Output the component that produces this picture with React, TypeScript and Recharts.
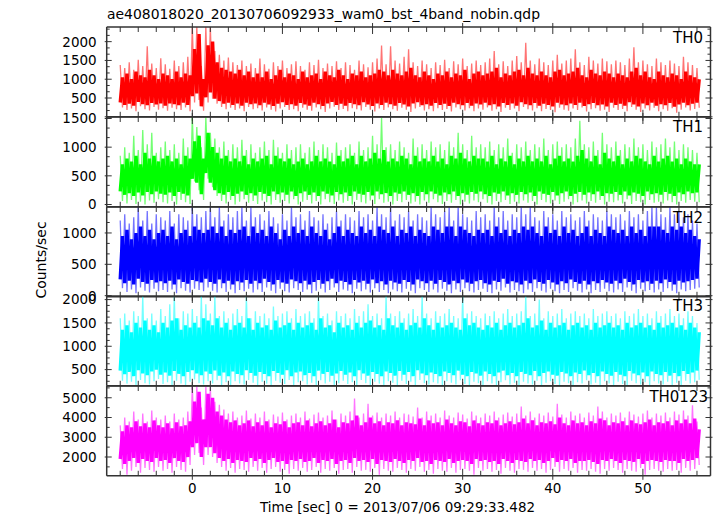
import React from "react";
import { ComposedChart, Line, XAxis, YAxis } from "recharts";

// light curve bins: 0.5 s wide, first bin at t = -8 s (129 bins, -8 .. 56 s)
const BIN_START = -8;
const BIN_STEP = 0.5;

// per-bin extremes (hi / lo) and the dense inner band (inHi / inLo)
const th0Hi = [
  1380, 1300, 1450, 1250, 1520, 1350, 1880, 1420, 1300, 1560,
  1400, 1280, 1500, 1350, 1450, 1600, 2390, 2390, 1350, 2390,
  2390, 1750, 1650, 1500, 1580, 1450, 1380, 1500, 1350, 1420,
  1300, 1550, 1400, 1280, 1450, 1350, 1500, 1300, 1400, 1480,
  1350, 1250, 1450, 1380, 1520, 1300, 1420, 1350, 1480, 1300,
  1450, 1380, 1250, 1500, 1400, 1320, 1450, 1550, 1900, 1400,
  1880, 1500, 1420, 1600, 1800, 1450, 1350, 1500, 1400, 1300,
  1450, 1380, 1520, 1300, 1480, 1400, 1550, 1350, 1420, 1500,
  1380, 1450, 1550, 1750, 1400, 1480, 1350, 1500, 1620, 1450,
  1970, 1500, 1400, 1550, 1450, 1380, 1500, 1650, 1420, 1500,
  1550, 1800, 1450, 1380, 1600, 1500, 1420, 1550, 1480, 1400,
  1500, 1450, 1380, 1550, 1850, 1450, 1500, 1400, 1350, 1550,
  1450, 1380, 1500, 1420, 1350, 1600, 1450, 1380, 1300,
];
const th0Lo = [
  250, 180, 220, 150, 280, 200, 170, 260, 190, 230,
  160, 240, 200, 180, 250, 150, 380, 450, 160, 380,
  480, 350, 260, 200, 240, 180, 220, 150, 260, 200,
  230, 170, 250, 190, 140, 220, 260, 180, 200, 150,
  240, 190, 160, 250, 200, 130, 220, 270, 180, 210,
  150, 230, 200, 170, 260, 190, 140, 220, 180, 250,
  200, 160, 240, 190, 130, 220, 260, 170, 200, 150,
  230, 180, 210, 140, 250, 200, 170, 230, 150, 220,
  190, 250, 160, 200, 130, 240, 180, 220, 150, 260,
  200, 170, 230, 150, 210, 180, 120, 240, 190, 160,
  220, 180, 250, 140, 200, 230, 160, 190, 130, 240,
  180, 210, 150, 260, 190, 130, 220, 170, 240, 150,
  200, 160, 230, 110, 190, 250, 170, 210, 240,
];
const th0InHi = [
  1050, 1150, 1000, 1200, 1100, 1050, 1250, 1100, 1000, 1150,
  1100, 1000, 1200, 1050, 1150, 1100, 1800, 2200, 1000, 1900,
  2000, 1450, 1300, 1250, 1200, 1150, 1250, 1100, 1200, 1050,
  1150, 1050, 1200, 1000, 1100, 1250, 1050, 1150, 1100, 1000,
  1200, 1050, 1100, 1150, 1000, 1200, 1100, 1050, 1250, 1100,
  1000, 1150, 1100, 1200, 1050, 1100, 1150, 1250, 1200, 1100,
  1250, 1150, 1100, 1200, 1300, 1100, 1050, 1200, 1100, 1000,
  1150, 1100, 1200, 1050, 1150, 1100, 1250, 1000, 1150, 1200,
  1100, 1150, 1200, 1300, 1050, 1150, 1100, 1200, 1250, 1100,
  1300, 1150, 1100, 1200, 1100, 1050, 1200, 1250, 1100, 1150,
  1200, 1300, 1100, 1050, 1250, 1150, 1100, 1200, 1150, 1050,
  1150, 1100, 1050, 1200, 1300, 1100, 1200, 1050, 1000, 1200,
  1100, 1050, 1150, 1100, 1000, 1200, 1100, 1050, 1000,
];
const th0InLo = [
  380, 320, 350, 300, 400, 340, 310, 370, 330, 360,
  300, 360, 340, 310, 380, 320, 550, 620, 280, 520,
  650, 480, 420, 350, 380, 320, 360, 300, 380, 340,
  360, 310, 380, 330, 290, 350, 390, 320, 340, 300,
  370, 330, 300, 380, 340, 290, 360, 400, 320, 350,
  300, 370, 340, 310, 390, 330, 290, 360, 320, 380,
  340, 300, 370, 330, 280, 360, 390, 310, 340, 300,
  370, 320, 350, 290, 380, 340, 310, 370, 300, 360,
  330, 380, 310, 340, 280, 370, 320, 360, 300, 390,
  340, 310, 370, 300, 350, 320, 280, 380, 330, 310,
  360, 320, 380, 290, 340, 370, 310, 330, 280, 380,
  320, 350, 300, 390, 330, 280, 360, 310, 380, 300,
  340, 310, 370, 270, 330, 380, 310, 350, 380,
];

const th1Hi = [
  850, 1000, 900, 1200, 950, 1300, 1050, 1250, 900, 1000,
  1100, 950, 1050, 900, 1150, 1000, 1526, 1350, 1000, 1526,
  1250, 1150, 1000, 1100, 950, 1050, 1000, 1130, 950, 1050,
  900, 1000, 1100, 950, 1130, 1000, 900, 1050, 950, 1000,
  1050, 900, 1000, 1100, 950, 1050, 1000, 900, 1080, 950,
  1000, 1050, 900, 1100, 950, 1000, 1200, 1050, 1510, 1000,
  1050, 950, 1100, 1000, 900, 1150, 1000, 1050, 950, 1100,
  1000, 1050, 950, 1100, 1000, 1250, 1050, 950, 1200, 1000,
  1050, 1000, 1100, 950, 1050, 1000, 1150, 900, 1050, 1000,
  1100, 950, 1050, 1000, 1150, 950, 1050, 1100, 1000, 1050,
  1000, 1150, 1460, 1050, 1000, 1100, 950, 1250, 1050, 1000,
  1100, 950, 1050, 1000, 1150, 1000, 1050, 950, 1100, 1000,
  1050, 1150, 1000, 1100, 950, 1050, 1000, 950, 900,
];
const th1Lo = [
  60, 20, 80, 10, 50, 0, 70, 30, 90, 40,
  20, 60, 0, 80, 40, 10, 400, 250, 80, 450,
  300, 150, 60, 20, 80, 0, 50, 90, 30, 60,
  10, 70, 40, 0, 80, 30, 60, 20, 90, 0,
  50, 80, 20, 60, 0, 90, 40, 10, 70, 30,
  60, 0, 80, 40, 20, 70, 10, 90, 30, 50,
  0, 60, 40, 80, 20, 50, 0, 70, 30, 90,
  40, 10, 60, 30, 80, 0, 50, 20, 70, 40,
  90, 30, 0, 60, 40, 80, 10, 50, 20, 70,
  30, 60, 0, 80, 40, 20, 70, 10, 50, 90,
  0, 40, 70, 20, 60, 30, 80, 0, 50, 40,
  70, 20, 90, 10, 60, 40, 0, 80, 30, 50,
  20, 70, 40, 0, 60, 30, 80, 50, 40,
];
const th1InHi = [
  700, 800, 750, 850, 700, 900, 800, 850, 750, 800,
  850, 750, 800, 700, 850, 800, 1100, 1200, 800, 1250,
  1000, 900, 800, 850, 750, 800, 750, 850, 700, 800,
  750, 800, 850, 700, 850, 800, 750, 800, 700, 750,
  800, 700, 750, 850, 750, 800, 750, 700, 850, 750,
  800, 850, 700, 850, 750, 800, 900, 800, 950, 750,
  800, 750, 850, 800, 700, 850, 750, 800, 750, 850,
  750, 800, 700, 850, 800, 900, 800, 750, 850, 800,
  800, 750, 850, 700, 800, 750, 850, 700, 800, 750,
  850, 750, 800, 750, 850, 700, 800, 850, 750, 800,
  750, 850, 950, 800, 750, 850, 700, 900, 800, 750,
  850, 700, 800, 750, 850, 800, 750, 700, 850, 750,
  800, 850, 750, 800, 700, 800, 750, 700, 700,
];
const th1InLo = [
  230, 170, 200, 150, 210, 160, 220, 180, 230, 190,
  170, 210, 150, 220, 190, 160, 450, 380, 180, 550,
  380, 250, 200, 170, 220, 150, 190, 230, 170, 200,
  160, 220, 190, 150, 230, 180, 210, 170, 230, 150,
  200, 230, 170, 210, 150, 230, 190, 160, 220, 180,
  210, 150, 230, 190, 170, 220, 160, 230, 180, 200,
  150, 210, 190, 230, 170, 200, 150, 220, 180, 230,
  190, 160, 210, 180, 230, 150, 200, 170, 220, 190,
  230, 180, 150, 210, 190, 230, 160, 200, 170, 220,
  180, 210, 150, 230, 190, 170, 220, 160, 200, 230,
  150, 190, 220, 170, 210, 180, 230, 150, 200, 190,
  220, 170, 230, 160, 210, 190, 150, 230, 180, 200,
  170, 220, 190, 150, 210, 180, 230, 200, 210,
];

const th2Hi = [
  1200, 1300, 1150, 1250, 1414, 1200, 1350, 1150, 1300, 1250,
  1200, 1350, 1150, 1300, 1250, 1200, 1414, 1300, 1250, 1350,
  1414, 1250, 1414, 1200, 1300, 1250, 1350, 1414, 1200, 1414,
  1250, 1300, 1200, 1350, 1250, 1150, 1300, 1200, 1414, 1250,
  1300, 1200, 1350, 1250, 1200, 1300, 1150, 1250, 1350, 1200,
  1300, 1250, 1200, 1350, 1250, 1300, 1200, 1414, 1300, 1250,
  1414, 1200, 1300, 1250, 1350, 1200, 1300, 1250, 1200, 1414,
  1300, 1250, 1350, 1414, 1200, 1414, 1300, 1250, 1200, 1350,
  1250, 1300, 1200, 1414, 1250, 1350, 1200, 1300, 1250, 1414,
  1300, 1414, 1250, 1200, 1350, 1250, 1300, 1200, 1350, 1250,
  1300, 1200, 1250, 1350, 1200, 1300, 1250, 1200, 1350, 1300,
  1250, 1300, 1200, 1350, 1250, 1300, 1200, 1350, 1414, 1414,
  1300, 1250, 1414, 1300, 1350, 1250, 1300, 1200, 1150,
];
const th2Lo = [
  120, 60, 100, 40, 130, 80, 50, 110, 70, 90,
  60, 100, 40, 120, 80, 50, 110, 90, 70, 130,
  80, 50, 120, 60, 100, 40, 90, 70, 110, 50,
  100, 60, 130, 80, 40, 110, 70, 50, 120, 90,
  60, 100, 40, 80, 110, 50, 90, 130, 60, 100,
  80, 40, 110, 70, 100, 50, 120, 60, 90, 40,
  100, 70, 50, 110, 80, 40, 120, 90, 60, 100,
  50, 110, 80, 40, 100, 60, 120, 70, 50, 90,
  110, 60, 40, 100, 80, 130, 50, 90, 70, 40,
  100, 60, 120, 80, 50, 110, 70, 40, 90, 60,
  120, 80, 50, 100, 40, 90, 60, 110, 70, 50,
  100, 60, 130, 80, 40, 110, 70, 90, 50, 100,
  60, 120, 80, 40, 100, 70, 90, 110, 130,
];
const th2InHi = [
  950, 1050, 900, 1000, 1100, 950, 1050, 900, 1000, 1050,
  950, 1100, 900, 1000, 1050, 950, 1100, 1050, 1000, 1050,
  1100, 1000, 1100, 950, 1050, 1000, 1050, 1100, 950, 1100,
  1000, 1050, 950, 1100, 1000, 900, 1050, 950, 1100, 1000,
  1050, 950, 1100, 1000, 950, 1050, 900, 1000, 1100, 950,
  1050, 1000, 950, 1100, 1000, 1050, 950, 1100, 1050, 1000,
  1100, 950, 1050, 1000, 1100, 950, 1050, 1000, 950, 1100,
  1050, 1000, 1100, 1100, 950, 1100, 1050, 1000, 950, 1050,
  1000, 1050, 950, 1100, 1000, 1050, 950, 1050, 1000, 1100,
  1050, 1100, 1000, 950, 1100, 1000, 1050, 950, 1100, 1000,
  1050, 950, 1000, 1100, 950, 1050, 1000, 950, 1100, 1050,
  1000, 1050, 950, 1100, 1000, 1050, 950, 1100, 1100, 1100,
  1050, 1000, 1100, 1050, 1100, 1000, 1050, 950, 900,
];
const th2InLo = [
  260, 200, 240, 180, 270, 220, 190, 250, 210, 230,
  200, 240, 180, 260, 220, 190, 250, 230, 210, 270,
  220, 190, 260, 200, 240, 180, 230, 210, 250, 190,
  240, 200, 270, 220, 180, 250, 210, 190, 260, 230,
  200, 240, 180, 220, 250, 190, 230, 270, 200, 240,
  220, 180, 250, 210, 240, 190, 260, 200, 230, 180,
  240, 210, 190, 250, 220, 180, 260, 230, 200, 240,
  190, 250, 220, 180, 240, 200, 260, 210, 190, 230,
  250, 200, 180, 240, 220, 270, 190, 230, 210, 180,
  240, 200, 260, 220, 190, 250, 210, 180, 230, 200,
  260, 220, 190, 240, 180, 230, 200, 250, 210, 190,
  240, 200, 270, 220, 180, 250, 210, 230, 190, 240,
  200, 260, 220, 180, 240, 210, 230, 250, 270,
];

const th3Hi = [
  1600, 1700, 1550, 1750, 1650, 2077, 1600, 1700, 1550, 1800,
  1650, 1900, 2077, 1600, 1750, 1700, 1800, 1650, 2077, 1900,
  1700, 2077, 1650, 1750, 1600, 1700, 1800, 1650, 2077, 1600,
  1750, 1650, 1700, 1600, 1850, 1650, 1700, 1750, 1600, 1800,
  1650, 1700, 1750, 1600, 2077, 1650, 1700, 1550, 1750, 1650,
  1700, 1600, 1800, 1650, 1750, 1900, 1650, 1700, 1600, 2077,
  1700, 1650, 1750, 1600, 1700, 1800, 1650, 2077, 1700, 1600,
  1750, 1650, 1700, 1800, 1650, 1600, 2077, 1700, 1750, 1650,
  1600, 1700, 1650, 1750, 1600, 1700, 1800, 1650, 1700, 1750,
  2077, 1650, 1700, 2000, 1600, 1750, 1650, 1700, 1800, 1600,
  1700, 1750, 1650, 1700, 1600, 1800, 1650, 1700, 1750, 1650,
  1700, 1600, 1750, 1650, 1700, 1800, 1650, 1700, 1600, 1750,
  1650, 1700, 1800, 1650, 1700, 1600, 1750, 1650, 1500,
];
const th3Lo = [
  260, 200, 240, 160, 280, 210, 180, 250, 300, 190,
  230, 170, 260, 200, 160, 240, 290, 210, 180, 250,
  200, 270, 170, 230, 160, 250, 200, 180, 280, 220,
  170, 240, 200, 160, 260, 220, 190, 280, 160, 230,
  250, 180, 220, 160, 270, 200, 240, 170, 210, 260,
  190, 230, 160, 280, 210, 170, 240, 200, 160, 250,
  220, 170, 260, 190, 240, 160, 280, 210, 180, 230,
  200, 160, 250, 220, 180, 270, 190, 160, 240, 210,
  170, 250, 200, 160, 230, 270, 180, 220, 160, 240,
  200, 180, 260, 160, 220, 250, 190, 170, 240, 210,
  160, 230, 200, 270, 180, 220, 160, 250, 200, 170,
  240, 190, 160, 260, 210, 180, 230, 160, 250, 200,
  180, 240, 170, 220, 160, 260, 200, 230, 280,
];
const th3InHi = [
  1350, 1450, 1300, 1500, 1400, 1550, 1350, 1450, 1300, 1500,
  1400, 1550, 1600, 1350, 1450, 1400, 1500, 1400, 1600, 1550,
  1450, 1600, 1400, 1500, 1350, 1450, 1500, 1400, 1600, 1350,
  1500, 1400, 1450, 1350, 1550, 1400, 1450, 1500, 1350, 1500,
  1400, 1450, 1500, 1350, 1600, 1400, 1450, 1300, 1500, 1400,
  1450, 1350, 1500, 1400, 1500, 1550, 1400, 1450, 1350, 1600,
  1450, 1400, 1500, 1350, 1450, 1500, 1400, 1600, 1450, 1350,
  1500, 1400, 1450, 1500, 1400, 1350, 1600, 1450, 1500, 1400,
  1350, 1450, 1400, 1500, 1350, 1450, 1500, 1400, 1450, 1500,
  1600, 1400, 1450, 1550, 1350, 1500, 1400, 1450, 1500, 1350,
  1450, 1500, 1400, 1450, 1350, 1500, 1400, 1450, 1500, 1400,
  1450, 1350, 1500, 1400, 1450, 1500, 1400, 1450, 1350, 1500,
  1400, 1450, 1500, 1400, 1450, 1350, 1500, 1400, 1300,
];
const th3InLo = [
  480, 400, 450, 360, 490, 420, 380, 460, 500, 390,
  440, 370, 470, 410, 360, 450, 490, 420, 380, 460,
  410, 480, 370, 440, 360, 460, 410, 380, 490, 430,
  370, 450, 410, 360, 470, 430, 390, 490, 360, 440,
  460, 380, 430, 360, 480, 410, 450, 370, 420, 470,
  390, 440, 360, 490, 420, 370, 450, 410, 360, 460,
  430, 370, 470, 390, 450, 360, 490, 420, 380, 440,
  410, 360, 460, 430, 380, 480, 390, 360, 450, 420,
  370, 460, 410, 360, 440, 480, 380, 430, 360, 450,
  410, 380, 470, 360, 430, 460, 390, 370, 450, 420,
  360, 440, 410, 480, 380, 430, 360, 460, 410, 370,
  450, 390, 360, 470, 420, 380, 440, 360, 460, 410,
  380, 450, 370, 430, 360, 470, 410, 440, 480,
];

const th0123Hi = [
  3600, 4000, 3800, 4300, 3900, 4200, 3800, 4350, 4000, 3900,
  4100, 3800, 4200, 3900, 4000, 4300, 5595, 5595, 4500, 5595,
  5595, 4800, 4650, 4400, 4200, 4300, 4000, 4100, 4350, 3950,
  4200, 4000, 4300, 3900, 4150, 4050, 4250, 3900, 4100, 4200,
  4000, 4300, 3950, 4150, 4250, 4000, 4100, 4350, 3900, 4200,
  4100, 4300, 4960, 4000, 4200, 4700, 4100, 4250, 4000, 4200,
  4100, 4300, 4000, 4200, 4150, 4050, 4500, 4000, 4300, 4100,
  4200, 4000, 4350, 4100, 4000, 4250, 4150, 3950, 4300, 4100,
  4000, 4200, 4100, 4300, 4000, 4150, 4250, 4050, 4200, 4550,
  4100, 4300, 4000, 4200, 4100, 4250, 4050, 4700, 4150, 4000,
  4300, 4100, 4200, 4000, 4250, 4100, 4550, 4300, 4000, 4200,
  4100, 4250, 4000, 4300, 4150, 4050, 4200, 4350, 4000, 4200,
  4100, 4250, 4000, 4300, 4150, 4350, 4100, 4620, 3800,
];
const th0123Lo = [
  1400, 1100, 1300, 1500, 1200, 1450, 1350, 1250, 1500, 1300,
  1400, 1200, 1500, 1350, 1250, 1600, 2100, 2200, 1600, 2100,
  2000, 1700, 1500, 1300, 1450, 1200, 1400, 1350, 1250, 1500,
  1300, 1450, 1200, 1400, 1500, 1250, 1350, 1150, 1400, 1300,
  1450, 1250, 1350, 1500, 1200, 1400, 1300, 1450, 1150, 1350,
  1400, 1200, 1500, 1300, 1350, 1250, 1450, 1100, 1400, 1300,
  1250, 1450, 1350, 1200, 1400, 1300, 1500, 1250, 1350, 1150,
  1400, 1300, 1250, 1450, 1200, 1350, 1400, 1300, 1100, 1450,
  1300, 1400, 1250, 1350, 1150, 1450, 1300, 1200, 1400, 1350,
  1250, 1450, 1300, 1400, 1200, 1350, 1500, 1250, 1400, 1300,
  1450, 1200, 1350, 1300, 1400, 1250, 1150, 1400, 1300, 1450,
  1350, 1200, 1400, 1300, 1250, 1450, 1100, 1350, 1400, 1300,
  1250, 1400, 1300, 1350, 1200, 1450, 1300, 1400, 1600,
];
const th0123InHi = [
  3300, 3600, 3500, 3800, 3550, 3700, 3500, 3850, 3600, 3500,
  3700, 3450, 3750, 3550, 3600, 3800, 4800, 5300, 3900, 5200,
  5000, 4300, 4100, 3900, 3750, 3850, 3600, 3700, 3850, 3550,
  3750, 3600, 3800, 3500, 3700, 3650, 3800, 3500, 3700, 3750,
  3600, 3850, 3550, 3700, 3800, 3600, 3700, 3900, 3500, 3750,
  3700, 3850, 4100, 3600, 3750, 4000, 3700, 3800, 3600, 3750,
  3700, 3850, 3600, 3750, 3700, 3650, 3950, 3600, 3850, 3700,
  3750, 3600, 3900, 3700, 3600, 3800, 3750, 3550, 3850, 3700,
  3600, 3750, 3700, 3850, 3600, 3700, 3800, 3650, 3750, 3950,
  3700, 3850, 3600, 3750, 3700, 3800, 3650, 4000, 3700, 3600,
  3850, 3700, 3750, 3600, 3800, 3700, 3950, 3850, 3600, 3750,
  3700, 3800, 3600, 3850, 3700, 3650, 3750, 3900, 3600, 3750,
  3700, 3800, 3600, 3850, 3700, 3900, 3700, 3950, 3400,
];
const th0123InLo = [
  1900, 1650, 1800, 1950, 1700, 1900, 1800, 1750, 1950, 1800,
  1850, 1700, 1950, 1800, 1750, 2000, 2500, 2700, 2000, 2500,
  2500, 2200, 1950, 1800, 1900, 1700, 1850, 1800, 1750, 1950,
  1800, 1900, 1700, 1850, 1950, 1750, 1800, 1650, 1850, 1800,
  1900, 1750, 1800, 1950, 1700, 1850, 1800, 1900, 1650, 1800,
  1850, 1700, 1950, 1800, 1850, 1750, 1900, 1650, 1850, 1800,
  1750, 1900, 1800, 1700, 1850, 1800, 1950, 1750, 1800, 1650,
  1850, 1800, 1750, 1900, 1700, 1800, 1850, 1800, 1650, 1900,
  1800, 1850, 1750, 1800, 1650, 1900, 1800, 1700, 1850, 1800,
  1750, 1900, 1800, 1850, 1700, 1800, 1950, 1750, 1850, 1800,
  1900, 1700, 1800, 1800, 1850, 1750, 1650, 1850, 1800, 1900,
  1800, 1700, 1850, 1800, 1750, 1900, 1650, 1800, 1850, 1800,
  1750, 1850, 1800, 1800, 1700, 1900, 1800, 1850, 1950,
];

// axis ticks
const X_DOMAIN: [number, number] = [-9.5, 57.5];
const xTicks = [-8, -6, -4, -2, 0, 2, 4, 6, 8, 10, 12, 14, 16, 18, 20, 22, 24, 26, 28, 30, 32, 34, 36, 38, 40, 42, 44, 46, 48, 50, 52, 54, 56];
const xLabels = [0, 10, 20, 30, 40, 50];

const th0Labels = [500, 1000, 1500, 2000];
const th1Labels = [0, 500, 1000, 1500];
const th2Labels = [0, 500, 1000];
const th3Labels = [500, 1000, 1500, 2000];
const th0123Labels = [2000, 3000, 4000, 5000];

const FONT = "DejaVu Sans";
const AXIS = "#333";
const W = 717;
const PAD = 12;
// panel frame edges (px)
const EDGES = [27, 116.8, 206.6, 296.4, 386.2, 476];
const PLOT_LEFT = 106.7;
const PLOT_RIGHT = 710.5;

type Panel = {
  name: string;
  color: string;
  hi: number[];
  lo: number[];
  inHi: number[];
  inLo: number[];
  domain: [number, number];
  labels: number[];
  majorStep: number;
  minorStep: number;
  minorStart: number;
  nameRight: number;
  nameBase: number;
};

const panels: Panel[] = [
  { name: "TH0", color: "#ff0000", hi: th0Hi, lo: th0Lo, inHi: th0InHi, inLo: th0InLo,
    domain: [0, 2390], labels: th0Labels, majorStep: 500, minorStep: 500 / 3, minorStart: 0, nameRight: 703, nameBase: 42.7 },
  { name: "TH1", color: "#00ff00", hi: th1Hi, lo: th1Lo, inHi: th1InHi, inLo: th1InLo,
    domain: [-40, 1526], labels: th1Labels, majorStep: 500, minorStep: 500 / 3, minorStart: 0, nameRight: 703, nameBase: 132 },
  { name: "TH2", color: "#0000ff", hi: th2Hi, lo: th2Lo, inHi: th2InHi, inLo: th2InLo,
    domain: [-18, 1414], labels: th2Labels, majorStep: 500, minorStep: 500 / 3, minorStart: 0, nameRight: 703, nameBase: 223 },
  { name: "TH3", color: "#00ffff", hi: th3Hi, lo: th3Lo, inHi: th3InHi, inLo: th3InLo,
    domain: [153, 2077], labels: th3Labels, majorStep: 500, minorStep: 125, minorStart: 250, nameRight: 703, nameBase: 311 },
  { name: "TH0123", color: "#ff00ff", hi: th0123Hi, lo: th0123Lo, inHi: th0123InHi, inLo: th0123InLo,
    domain: [1049, 5595], labels: th0123Labels, majorStep: 1000, minorStep: 500, minorStart: 1500, nameRight: 708, nameBase: 402 },
];

// zig-zag through each bin: outer line max -> min, inner line min -> max (out of phase)
function buildRows(p: Panel) {
  const rows: { t: number; zz: number; zi: number }[] = [];
  p.hi.forEach((v, i) => {
    const t = BIN_START + i * BIN_STEP;
    rows.push({ t, zz: v, zi: p.inLo[i] });
    rows.push({ t: t + BIN_STEP / 2, zz: p.lo[i], zi: p.inHi[i] });
  });
  return rows;
}

function yTicksFor(p: Panel) {
  const out: number[] = [];
  for (let v = p.minorStart; v <= p.domain[1] + 1e-6; v += p.minorStep) {
    if (v >= p.domain[0]) out.push(Math.round(v * 1000) / 1000);
  }
  return out;
}

const near = (a: number, b: number) => Math.abs(a - b) < 0.01;

function makeXTick(dir: number, withLabels: boolean) {
  return (props: any) => {
    const { x, y, payload } = props;
    const major = payload.value % 10 === 0;
    const inLen = major ? 7 : 5;
    const outLen = major ? 4 : 0;
    return (
      <g>
        <line x1={x} x2={x} y1={y - dir * outLen} y2={y + dir * inLen} stroke={AXIS} strokeWidth={1} />
        {withLabels && xLabels.includes(payload.value) && (
          <text x={x} y={y + 17} textAnchor="middle" fontFamily={FONT} fontSize={13.5} fill="#000">
            {payload.value}
          </text>
        )}
      </g>
    );
  };
}

function makeYTick(p: Panel, dir: number, withLabels: boolean) {
  return (props: any) => {
    const { x, y, payload } = props;
    const v = payload.value;
    const major = near(v / p.majorStep, Math.round(v / p.majorStep));
    const inLen = major ? 5 : 3;
    const outLen = major ? 2 : 0;
    const showLabel = withLabels && p.labels.some((l) => near(l, v));
    return (
      <g>
        <line x1={x - dir * outLen} x2={x + dir * inLen} y1={y} y2={y} stroke={AXIS} strokeWidth={1} />
        {showLabel && (
          <text x={x - 10} y={y} dy="0.36em" textAnchor="end" fontFamily={FONT} fontSize={13.5} fill="#000">
            {Math.round(v)}
          </text>
        )}
      </g>
    );
  };
}

function PanelChart({ p, index }: { p: Panel; index: number }) {
  const top = EDGES[index];
  const bottom = EDGES[index + 1];
  const last = index === panels.length - 1;
  const rows = buildRows(p);
  const yTicks = yTicksFor(p);
  const axisLine = { stroke: AXIS, strokeWidth: 1.5 };
  const height = bottom - top + PAD + (last ? 30 : PAD);

  return (
    <div style={{ position: "absolute", left: 0, top: top - PAD }}>
      <ComposedChart
        width={W}
        height={height}
        data={rows}
        margin={{ top: PAD, right: W - PLOT_RIGHT, bottom: last ? 0 : PAD, left: 0 }}
      >
        <XAxis
          xAxisId="b"
          dataKey="t"
          type="number"
          domain={X_DOMAIN}
          allowDataOverflow
          ticks={xTicks}
          interval={0}
          orientation="bottom"
          mirror={!last}
          height={30}
          tickSize={0}
          tickMargin={0}
          tickLine={false}
          axisLine={axisLine}
          tick={makeXTick(-1, last)}
        />
        <XAxis
          xAxisId="t"
          dataKey="t"
          type="number"
          domain={X_DOMAIN}
          allowDataOverflow
          ticks={xTicks}
          interval={0}
          orientation="top"
          mirror
          tickSize={0}
          tickMargin={0}
          tickLine={false}
          axisLine={axisLine}
          tick={makeXTick(1, false)}
        />
        <YAxis
          yAxisId="l"
          type="number"
          domain={p.domain}
          allowDataOverflow
          ticks={yTicks}
          interval={0}
          orientation="left"
          width={PLOT_LEFT}
          tickSize={0}
          tickMargin={0}
          tickLine={false}
          axisLine={axisLine}
          tick={makeYTick(p, 1, true)}
        />
        <YAxis
          yAxisId="r"
          type="number"
          domain={p.domain}
          allowDataOverflow
          ticks={yTicks}
          interval={0}
          orientation="right"
          mirror
          tickSize={0}
          tickMargin={0}
          tickLine={false}
          axisLine={axisLine}
          tick={makeYTick(p, -1, false)}
        />
        <Line
          xAxisId="b"
          yAxisId="l"
          type="linear"
          dataKey="zz"
          stroke={p.color}
          strokeOpacity={0.55}
          strokeWidth={1.3}
          dot={false}
          activeDot={false}
          isAnimationActive={false}
        />
        <Line
          xAxisId="b"
          yAxisId="l"
          type="linear"
          dataKey="zi"
          stroke={p.color}
          strokeWidth={3.4}
          dot={false}
          activeDot={false}
          isAnimationActive={false}
        />
      </ComposedChart>
    </div>
  );
}

export default function App() {
  return (
    <div style={{ position: "absolute", left: 0, top: 0, width: W, height: 516, background: "#fff", overflow: "hidden" }}>
      {panels.map((p, i) => (
        <PanelChart key={p.name} p={p} index={i} />
      ))}
      <svg width={W} height={516} style={{ position: "absolute", left: 0, top: 0, pointerEvents: "none" }} fontFamily={FONT}>
        <text x={107} y={19} fontSize={14} textLength={433} lengthAdjust="spacingAndGlyphs" fill="#000">
          ae408018020_20130706092933_wam0_bst_4band_nobin.qdp
        </text>
        <text transform="translate(45.5,260) rotate(-90)" textAnchor="middle" fontSize={14} fill="#000">
          Counts/sec
        </text>
        <text x={260} y={511.5} fontSize={14} textLength={275} lengthAdjust="spacingAndGlyphs" fill="#000">
          Time [sec] 0 = 2013/07/06 09:29:33.482
        </text>
        {panels.map((p) => (
          <text key={p.name} x={p.nameRight} y={p.nameBase} textAnchor="end" fontSize={15} fill="#000">
            {p.name}
          </text>
        ))}
      </svg>
    </div>
  );
}
